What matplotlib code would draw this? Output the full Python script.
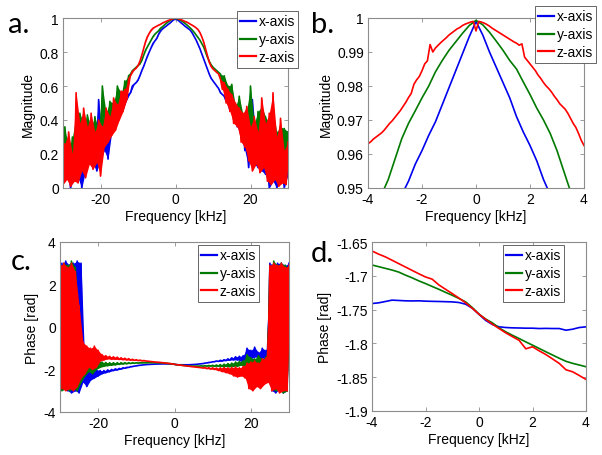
import numpy as np
import matplotlib
matplotlib.use("Agg")
import matplotlib.pyplot as plt

plt.rcParams['font.family'] = ['Liberation Sans', 'DejaVu Sans']
plt.rcParams['axes.unicode_minus'] = False

series_names = ["x-axis", "y-axis", "z-axis"]
colors = ["#0000ee", "#007a00", "#ff0000"]

# ---------------- Panel a: magnitude, -30..30 kHz, step 0.5 ----------------
freq_a = np.arange(-30, 30.001, 0.5)

mag_x_left = [0.06, 0.20, 0.08, 0.18, 0.00, 0.15, 0.07, 0.30, 0.06, 0.25, 0.00, 0.28, 0.10,
              0.30, 0.16, 0.26, 0.14, 0.30, 0.10, 0.52, 0.16, 0.30, 0.22, 0.36, 0.17, 0.36,
              0.33, 0.40, 0.38, 0.43, 0.42, 0.47, 0.46, 0.51, 0.52, 0.55, 0.56]
mag_x_mid = [0.60, 0.61, 0.62, 0.635, 0.66, 0.69, 0.715, 0.745, 0.775, 0.80, 0.825, 0.85,
             0.865, 0.88, 0.905, 0.925, 0.935, 0.944, 0.952, 0.961, 0.9695, 0.9795, 0.9895,
             0.999,
             0.99, 0.981, 0.971, 0.9625, 0.9525, 0.944, 0.936, 0.927, 0.91, 0.89, 0.87, 0.845,
             0.82, 0.79, 0.76, 0.73, 0.70, 0.67, 0.645, 0.63, 0.615, 0.60, 0.585]
mag_x_right = [0.56, 0.55, 0.54, 0.51, 0.50, 0.46, 0.46, 0.41, 0.42, 0.36, 0.38, 0.30, 0.36,
               0.22, 0.30, 0.12, 0.30, 0.52, 0.14, 0.30, 0.12, 0.28, 0.10, 0.32, 0.08, 0.25,
               0.00, 0.30, 0.04, 0.26, 0.00, 0.24, 0.06, 0.22, 0.00, 0.20, 0.08]

mag_y_left = [0.12, 0.36, 0.10, 0.22, 0.08, 0.30, 0.12, 0.42, 0.10, 0.44, 0.16, 0.38, 0.14,
              0.43, 0.18, 0.36, 0.17, 0.42, 0.22, 0.34, 0.26, 0.60, 0.30, 0.44, 0.34, 0.51,
              0.38, 0.50, 0.42, 0.60, 0.46, 0.56, 0.52, 0.63, 0.58, 0.66, 0.67]
mag_y_mid = [0.69, 0.70, 0.71, 0.72, 0.73, 0.75, 0.78, 0.81, 0.83, 0.85, 0.87, 0.89, 0.905,
             0.915, 0.925, 0.94, 0.948, 0.958, 0.968, 0.977, 0.985, 0.991, 0.996,
             1.0,
             0.996, 0.991, 0.985, 0.977, 0.969, 0.96, 0.95, 0.94, 0.928, 0.915, 0.90, 0.885,
             0.87, 0.85, 0.83, 0.80, 0.77, 0.745, 0.725, 0.71, 0.70, 0.69, 0.68]
mag_y_right = [0.67, 0.62, 0.66, 0.56, 0.60, 0.50, 0.61, 0.45, 0.48, 0.40, 0.54, 0.33, 0.43,
               0.30, 0.46, 0.24, 0.60, 0.18, 0.38, 0.17, 0.45, 0.14, 0.48, 0.15, 0.42, 0.10,
               0.38, 0.08, 0.45, 0.07, 0.33, 0.06, 0.36, 0.08, 0.35, 0.06, 0.33]

mag_z_left = [0.02, 0.26, 0.05, 0.33, 0.01, 0.20, 0.04, 0.56, 0.03, 0.38, 0.10, 0.47, 0.06,
              0.36, 0.14, 0.44, 0.11, 0.33, 0.15, 0.40, 0.07, 0.36, 0.24, 0.47, 0.27, 0.42,
              0.31, 0.53, 0.34, 0.49, 0.40, 0.57, 0.45, 0.58, 0.52, 0.64, 0.66]
mag_z_mid = [0.685, 0.695, 0.705, 0.72, 0.745, 0.78, 0.82, 0.86, 0.89, 0.91, 0.928, 0.94,
             0.946, 0.952, 0.958, 0.963, 0.970, 0.975, 0.98, 0.985, 0.989, 0.994, 0.997,
             1.0,
             0.997, 0.994, 0.99, 0.985, 0.98, 0.976, 0.97, 0.963, 0.957, 0.95, 0.942, 0.932,
             0.915, 0.89, 0.86, 0.82, 0.78, 0.74, 0.715, 0.70, 0.69, 0.68, 0.67]
mag_z_right = [0.64, 0.58, 0.62, 0.50, 0.58, 0.45, 0.55, 0.38, 0.50, 0.36, 0.47, 0.27, 0.44,
               0.24, 0.48, 0.16, 0.36, 0.10, 0.42, 0.14, 0.33, 0.09, 0.53, 0.12, 0.38, 0.04,
               0.44, 0.02, 0.56, 0.05, 0.30, 0.01, 0.41, 0.03, 0.22, 0.02, 0.27]

# ---------------- Panel b: magnitude zoom, -4..4 kHz ----------------
freq_b_xy = np.arange(-4, 4.001, 0.25)
freq_b_z = np.arange(-4, 4.001, 0.1)
magb_x = [0.925, 0.930, 0.935, 0.940, 0.944, 0.948, 0.952, 0.957, 0.961, 0.9655, 0.9695,
          0.9745, 0.9795, 0.9845, 0.9895, 0.9945, 0.999, 0.995, 0.990, 0.9855, 0.981, 0.9765,
          0.971, 0.9665, 0.9625, 0.958, 0.9525, 0.948, 0.944, 0.940, 0.936, 0.931, 0.927]
magb_y = [0.940, 0.9435, 0.948, 0.9525, 0.9585, 0.9645, 0.969, 0.9727, 0.9765, 0.980, 0.9842,
          0.9875, 0.9905, 0.993, 0.9955, 0.9978, 0.9993, 0.998, 0.9958, 0.9932, 0.9905, 0.9875,
          0.985, 0.9812, 0.9775, 0.9735, 0.970, 0.966, 0.961, 0.955, 0.949, 0.944, 0.939]
magb_z = [0.9630, 0.9636, 0.9644, 0.9650, 0.9656, 0.9662, 0.9670, 0.9680, 0.9690, 0.9698,
          0.9708, 0.9718, 0.9728, 0.9740, 0.9752, 0.9766, 0.9778, 0.9805, 0.9818, 0.9828,
          0.9845, 0.9865, 0.9874, 0.9922, 0.9900, 0.9912, 0.9920, 0.9928, 0.9935, 0.9942,
          0.9950, 0.9956, 0.9962, 0.9968, 0.9972, 0.9978, 0.9982, 0.9985, 0.9988, 0.9990,
          0.9962,
          0.9990, 0.9988, 0.9985, 0.9981, 0.9976, 0.9970, 0.9965, 0.9960, 0.9955, 0.9950,
          0.9945, 0.9940, 0.9935, 0.9930, 0.9926, 0.9920, 0.9924, 0.9885, 0.9875, 0.9865,
          0.9855, 0.9845, 0.9832, 0.9822, 0.9810, 0.9800, 0.9792, 0.9782, 0.9770, 0.9760,
          0.9748, 0.9740, 0.9732, 0.9720, 0.9705, 0.9690, 0.9678, 0.9660, 0.9640, 0.9625]

# ---------------- Panel c: phase, -30..30 kHz, step 0.5 ----------------
freq_c = np.arange(-30, 30.001, 0.5)
ph_x = [-3.0, 3.0, -2.9, 3.1, -3.0, 2.9, -3.1, 3.0, -3.0, 3.1, -3.1, 3.0, -2.6, -1.8, -2.8,
        -2.0, -2.5, -2.0, -2.4, -2.0, -2.3, -2.05, -2.2, -2.05, -2.15, -2.02, -2.1, -2.0,
        -2.05, -1.97, -2.02, -1.95, -1.98, -1.92, -1.94, -1.9, -1.9, -1.87, -1.86, -1.84,
        -1.83, -1.81, -1.8, -1.79, -1.78, -1.77, -1.765, -1.76, -1.755, -1.75, -1.745,
        -1.742, -1.741, -1.738, -1.7365, -1.737, -1.7375, -1.738, -1.739, -1.742,
        -1.757,
        -1.772, -1.777, -1.777, -1.778, -1.778, -1.778, -1.779, -1.776, -1.77, -1.765, -1.76,
        -1.75, -1.74, -1.73, -1.72, -1.70, -1.69, -1.67, -1.66, -1.64, -1.63, -1.60, -1.62,
        -1.57, -1.6, -1.54, -1.58, -1.5, -1.56, -1.45, -1.55, -1.4, -1.55, -1.38, -1.6, -1.35,
        -1.55, -1.0, -1.5, -1.1, -1.45, -0.95, -1.4, -1.2, -1.5, -1.0, -1.45, -1.1, -1.5,
        3.0, -3.0, 2.9, -3.1, 3.0, -2.9, 3.0, -3.1, 2.9, -3.0, 3.0]
ph_y = [2.8, -3.0, 3.0, -2.9, 2.9, -3.0, 3.1, -2.9, 2.8, -3.0, 0.5, -2.6, -1.0, -2.3, -1.3,
        -2.1, -1.5, -2.2, -1.6, -2.0, -1.6, -1.9, -1.65, -1.85, -1.67, -1.82, -1.68, -1.8,
        -1.68, -1.78, -1.68, -1.76, -1.68, -1.74, -1.68, -1.73, -1.68, -1.72, -1.68, -1.71,
        -1.68, -1.70, -1.68, -1.69, -1.68, -1.685, -1.68, -1.68, -1.68, -1.68, -1.681,
        -1.682, -1.684, -1.689, -1.6945, -1.703, -1.7115, -1.72, -1.729, -1.7386,
        -1.757,
        -1.77, -1.783, -1.793, -1.803, -1.812, -1.822, -1.83, -1.835, -1.84, -1.84, -1.84,
        -1.84, -1.84, -1.83, -1.84, -1.82, -1.84, -1.81, -1.84, -1.8, -1.85, -1.79, -1.85,
        -1.77, -1.86, -1.75, -1.86, -1.72, -1.87, -1.7, -1.85, -1.65, -1.85, -1.62, -1.8,
        -1.6, -1.85, -1.3, -1.85, -1.45, -1.9, -1.5, -1.85, -1.35, -1.9, -1.5, -1.8, -1.4,
        -1.7,
        2.8, -2.9, 3.1, -3.0, 2.9, -3.0, 3.0, -3.1, 2.9, -3.0, 2.8]
ph_z = [2.9, -2.9, 3.0, -3.0, 2.8, -2.9, 3.0, -3.0, 2.6, -2.8, 1.0, -2.4, -0.7, -2.2, -0.9,
        -1.9, -1.0, -2.0, -0.9, -1.9, -1.1, -1.6, -1.3, -1.55, -1.35, -1.5, -1.38, -1.52,
        -1.4, -1.52, -1.42, -1.53, -1.45, -1.54, -1.47, -1.55, -1.49, -1.56, -1.52, -1.57,
        -1.54, -1.58, -1.56, -1.59, -1.58, -1.60, -1.61, -1.62, -1.63, -1.64, -1.65,
        -1.655, -1.663, -1.672, -1.682, -1.692, -1.702, -1.714, -1.726, -1.740,
        -1.757,
        -1.772, -1.784, -1.796, -1.805, -1.817, -1.830, -1.842, -1.853, -1.865, -1.875,
        -1.885, -1.895, -1.905, -1.915, -1.93, -1.90, -1.96, -1.91, -1.98, -1.92, -2.0,
        -1.93, -2.05, -1.92, -2.1, -1.90, -2.15, -1.92, -2.2, -1.90, -2.3, -1.88, -2.35,
        -1.92, -2.3, -1.85, -2.4, -1.70, -2.9, -1.65, -3.0, -1.6, -2.8, -1.7, -2.9, -1.5,
        -2.7, -1.45, -2.6,
        2.9, -3.0, 3.0, -2.9, 2.9, -3.1, 3.0, -3.0, 2.8, -3.0, 2.9]

# ---------------- Panel d: phase zoom, -4..4 kHz ----------------
freq_d = np.arange(-4, 4.001, 0.25)
phd_x = [-1.741, -1.740, -1.738, -1.736, -1.7365, -1.737, -1.7372, -1.737, -1.7375, -1.7378,
         -1.738, -1.7383, -1.7386, -1.7395, -1.742, -1.748, -1.757, -1.766, -1.772, -1.7755,
         -1.7765, -1.777, -1.7772, -1.7775, -1.7775, -1.778, -1.7778, -1.778, -1.778,
         -1.7805, -1.779, -1.7765, -1.7755]
phd_y = [-1.684, -1.6865, -1.689, -1.6915, -1.6945, -1.699, -1.703, -1.7075, -1.7115,
         -1.7158, -1.72, -1.7245, -1.7288, -1.7335, -1.7386, -1.747, -1.7568, -1.764,
         -1.7696, -1.777, -1.7829, -1.788, -1.7928, -1.7978, -1.8026, -1.8075, -1.8124,
         -1.8172, -1.822, -1.8265, -1.8295, -1.832, -1.8345]
phd_z = [-1.6633, -1.668, -1.672, -1.677, -1.682, -1.687, -1.692, -1.697, -1.7017, -1.705,
         -1.7135, -1.72, -1.7263, -1.733, -1.740, -1.748, -1.7568, -1.7645, -1.7716, -1.778,
         -1.7844, -1.790, -1.7955, -1.808, -1.805, -1.811, -1.8165, -1.823, -1.8296, -1.839,
         -1.842, -1.8475, -1.8533]

W, H = 602, 456
fig = plt.figure(figsize=(W / 100, H / 100), dpi=100)

def box(l, t, r, b):
    return [l / W, 1 - b / H, (r - l) / W, (b - t) / H]

ax_a = fig.add_axes(box(63, 19, 288, 189))
ax_b = fig.add_axes(box(368, 19, 584, 189))
ax_c = fig.add_axes(box(60, 243, 289, 413))
ax_d = fig.add_axes(box(372, 243, 586, 412))

lw = 1.2

def noisy(ax, x, vals, c, n):
    """Line plus the band swept by its rapid oscillation (peak-to-peak envelope)."""
    v = np.asarray(vals, dtype=float)
    pad = np.concatenate([[v[0]], v, [v[-1]]])
    neigh = 0.5 * (pad[:-2] + pad[2:])
    hi = np.maximum(v, neigh)
    lo = np.minimum(v, neigh)
    ax.fill_between(x, lo, hi, color=c, lw=0, zorder=2)
    ax.plot(x, v, color=c, lw=lw, label=n, zorder=2)

mag_a = [mag_x_left + mag_x_mid + mag_x_right,
         mag_y_left + mag_y_mid + mag_y_right,
         mag_z_left + mag_z_mid + mag_z_right]
for vals, c, n in zip(mag_a, colors, series_names):
    noisy(ax_a, freq_a, vals, c, n)
ax_b.plot(freq_b_xy, magb_x, color=colors[0], lw=lw, label=series_names[0])
ax_b.plot(freq_b_xy, magb_y, color=colors[1], lw=lw, label=series_names[1])
ax_b.plot(freq_b_z, magb_z, color=colors[2], lw=lw, label=series_names[2])
for vals, c, n in zip([ph_x, ph_y, ph_z], colors, series_names):
    noisy(ax_c, freq_c, vals, c, n)
for vals, c, n in zip([phd_x, phd_y, phd_z], colors, series_names):
    ax_d.plot(freq_d, vals, color=c, lw=lw, label=n)

spine_col = "0.55"
def style(ax, xlim, ylim, xticks, yticks, ylabels, ylabel):
    ax.set_xlim(*xlim)
    ax.set_ylim(*ylim)
    ax.set_xticks(xticks)
    ax.set_xticklabels([str(t) for t in xticks])
    ax.set_yticks(yticks)
    ax.set_yticklabels(ylabels)
    ax.tick_params(direction='in', length=3, width=0.6, color=spine_col, top=True,
                   right=True, labelsize=10, pad=3)
    for s in ax.spines.values():
        s.set_color(spine_col)
        s.set_linewidth(0.8)
        s.set_zorder(5)
    ax.set_xlabel("Frequency [kHz]", fontsize=10, labelpad=2)
    ax.set_ylabel(ylabel, fontsize=10, labelpad=3)

style(ax_a, (-30, 30), (0, 1), [-20, 0, 20], [0, 0.2, 0.4, 0.6, 0.8, 1],
      ["0", "0.2", "0.4", "0.6", "0.8", "1"], "Magnitude")
style(ax_b, (-4, 4), (0.95, 1), [-4, -2, 0, 2, 4], [0.95, 0.96, 0.97, 0.98, 0.99, 1],
      ["0.95", "0.96", "0.97", "0.98", "0.99", "1"], "Magnitude")
style(ax_c, (-30, 30), (-4, 4), [-20, 0, 20], [-4, -2, 0, 2, 4],
      ["-4", "-2", "0", "2", "4"], "Phase [rad]")
style(ax_d, (-4, 4), (-1.9, -1.65), [-4, -2, 0, 2, 4],
      [-1.9, -1.85, -1.8, -1.75, -1.7, -1.65],
      ["-1.9", "-1.85", "-1.8", "-1.75", "-1.7", "-1.65"], "Phase [rad]")

def legend(ax, x, y):
    leg = ax.legend(loc='upper left', bbox_to_anchor=(x / W, 1 - y / H),
                    bbox_transform=fig.transFigure, borderaxespad=0, fontsize=10,
                    handlelength=1.1, handletextpad=0.2, borderpad=0.25,
                    labelspacing=0.28, fancybox=False, framealpha=1)
    leg.set_zorder(10)
    leg.get_frame().set_edgecolor("0.3")
    leg.get_frame().set_linewidth(0.6)
    for l in leg.get_lines():
        l.set_linewidth(1.6)

legend(ax_a, 237, 12)
legend(ax_b, 535, 7)
legend(ax_c, 198, 246)
legend(ax_d, 503, 246)

lab_kw = dict(fontsize=21, family=['Lato', 'DejaVu Sans'])
fig.text(8 / W, 1 - 33 / H, "a.", **lab_kw)
fig.text(311 / W, 1 - 33 / H, "b.", **lab_kw)
fig.text(11 / W, 1 - 270 / H, "c.", **lab_kw)
fig.text(311 / W, 1 - 262 / H, "d.", **lab_kw)

fig.savefig("out.png", dpi=100)
